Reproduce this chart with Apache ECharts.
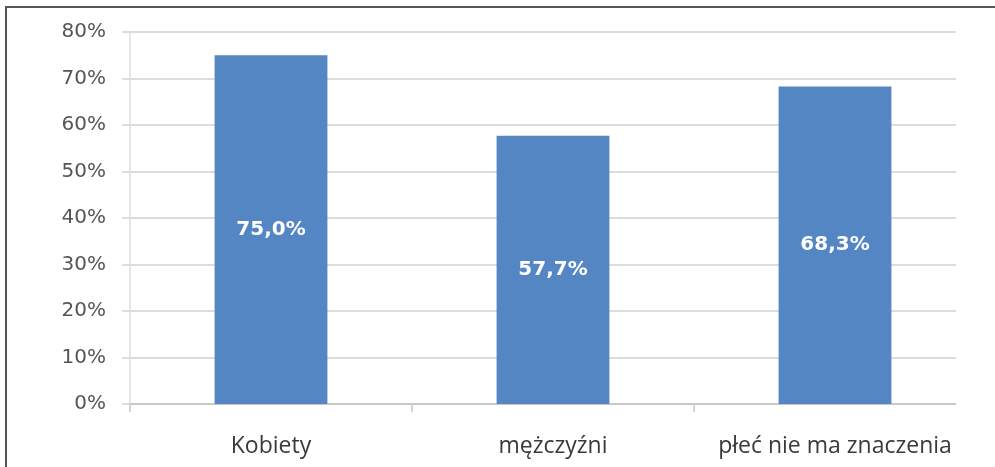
<!DOCTYPE html>
<html>
<head>
<meta charset="utf-8">
<script src="https://cdn.jsdelivr.net/npm/echarts@6/dist/echarts.min.js"></script>
<style>
  html, body { margin: 0; padding: 0; background: #fff; }
  body { width: 995px; height: 467px; position: relative; overflow: hidden; }
  #frame { position: absolute; left: 5px; top: 6px; width: 990px; height: 470px;
           border-top: 2px solid #555; border-left: 2px solid #555; box-sizing: border-box; }
  #clip { position: absolute; left: 0; top: 0; width: 956px; height: 467px; overflow: hidden; }
  #chart { width: 995px; height: 467px; }
</style>
</head>
<body>
<div id="clip"><div id="chart"></div></div>
<div id="frame"></div>
<script>
// Odpowiedzi według płci
const categories = ['Kobiety', 'mężczyźni', 'płeć nie ma znaczenia'];
const values = [75.0, 57.7, 68.3];
const yTicks = { min: 0, max: 80, step: 10 };

const chart = echarts.init(document.getElementById('chart'), null, { renderer: 'canvas' });

chart.setOption({
  animation: false,
  grid: { left: 130, right: 19, top: 32, bottom: 63 },
  xAxis: {
    type: 'category',
    data: categories,
    axisLine: { lineStyle: { color: '#c8c8c8', width: 2 } },
    axisTick: { show: true, interval: 0, length: 8, lineStyle: { color: '#c8c8c8', width: 1.5 } },
    axisLabel: {
      interval: 0, hideOverlap: false,
      color: '#3a3a3a', fontFamily: 'Open Sans', fontSize: 23, margin: 31
    }
  },
  yAxis: {
    type: 'value',
    min: yTicks.min,
    max: yTicks.max,
    interval: yTicks.step,
    axisLine: { show: true, lineStyle: { color: '#dcdcdc', width: 1.5 } },
    axisTick: { show: true, length: 8, lineStyle: { color: '#dcdcdc', width: 2 } },
    splitLine: { lineStyle: { color: '#dcdcdc', width: 2 } },
    axisLabel: {
      color: '#555', fontFamily: 'DejaVu Sans', fontSize: 20, margin: 24,
      formatter: v => v + '%'
    }
  },
  series: [{
    type: 'bar',
    data: values,
    barCategoryGap: '60%',
    itemStyle: { color: '#5586c4' },
    label: {
      show: true,
      position: 'inside',
      color: '#fff',
      fontFamily: 'DejaVu Sans',
      fontWeight: 'bold',
      fontSize: 20,
      formatter: p => p.value.toFixed(1).replace('.', ',') + '%'
    }
  }]
});
</script>
</body>
</html>
